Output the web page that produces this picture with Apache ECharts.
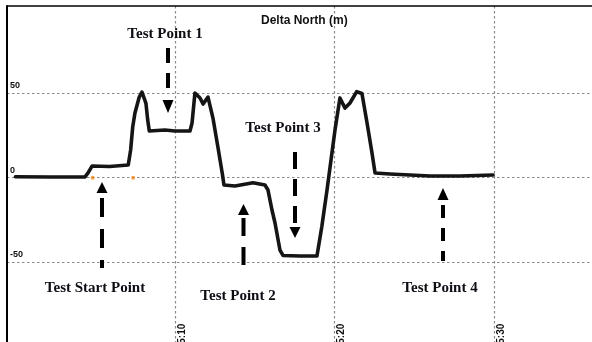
<!DOCTYPE html>
<html>
<head>
<meta charset="utf-8">
<script src="https://cdn.jsdelivr.net/npm/echarts@6/dist/echarts.min.js"></script>
<style>html,body{margin:0;padding:0;background:#fff}#c{width:592px;height:342px}</style>
</head>
<body>
<div id="c"></div>
<script>
// time in seconds (5:10 = 310 s)
var times = [300.0, 302.2, 304.36, 304.55, 304.8, 305.9, 307.07, 307.22, 307.35, 307.49, 307.76, 307.93, 308.18, 308.29, 308.39, 309.37, 310.0, 310.94, 311.07, 311.25, 311.57, 311.76, 312.07, 312.38, 312.7, 312.98, 313.07, 313.76, 314.89, 315.64, 315.83, 316.08, 316.27, 316.58, 316.77, 317.84, 318.9, 319.2, 319.53, 320.03, 320.34, 320.66, 320.97, 321.39, 321.72, 322.04, 322.35, 322.54, 323.48, 324.73, 325.99, 327.87, 329.94];
var north = [0.6, 0.4, 0.5, 2.8, 6.9, 6.6, 7.5, 16.4, 30, 38.3, 47.7, 50.7, 44, 34.1, 27.6, 28.2, 27.6, 27.6, 32.4, 50.1, 47.2, 43.6, 47.7, 35.3, 17.6, 1.6, -4.3, -4.9, -3.0, -4.3, -7.3, -19.1, -26.8, -42.8, -46, -46.3, -46.3, -29.2, -7.3, 28.2, 47.2, 41.2, 44.2, 50.9, 49.8, 32.4, 14.6, 2.8, 2.2, 1.6, 1.0, 1.0, 1.6];
var markerTimes = [304.84, 307.38];
var markerValues = [0, 0];
var xTickValues = [310, 320, 330];
var xTickLabels = ['5:10', '5:20', '5:30'];
var yTickValues = [-50, 0, 50];
var yTickLabels = ['-50', '0', '50'];
var titleText = 'Delta North (m)';
var notes = ['Test Start Point', 'Test Point 1', 'Test Point 2', 'Test Point 3', 'Test Point 4'];

var lineData = times.map(function (t, i) { return [t, north[i]]; });
var markerData = markerTimes.map(function (t, i) { return [t, markerValues[i]]; });

var chart = echarts.init(document.getElementById('c'), null, {renderer: 'canvas'});

var serif = 'bold 15px "Liberation Serif", "DejaVu Serif", serif';
function noteText(txt, cx, cy) {
  return {type: 'text', x: cx, y: cy, z: 50,
    style: {text: txt, font: serif, fill: '#0d0d14', align: 'center', verticalAlign: 'middle'}};
}
function arrow(x, y1, y2, dash, tipY, baseY) {
  return [
    {type: 'line', z: 50, shape: {x1: x, y1: y1, x2: x, y2: y2},
      style: {stroke: '#000', lineWidth: 4, lineDash: dash}},
    {type: 'polygon', z: 50, shape: {points: [[x - 5.5, baseY], [x + 5.5, baseY], [x, tipY]]},
      style: {fill: '#000'}}
  ];
}

var graphics = [
  {type: 'line', z: 60, shape: {x1: 7, y1: 6, x2: 592, y2: 6}, style: {stroke: '#000', lineWidth: 1.6}},
  noteText(notes[0], 95, 288),
  noteText(notes[1], 165, 34),
  noteText(notes[2], 238, 296),
  noteText(notes[3], 283, 128),
  noteText(notes[4], 440, 288)
].concat(
  arrow(102, 198, 268, [19, 12], 182, 193),
  arrow(168, 48, 90, [15, 10], 113, 100),
  arrow(243.5, 218, 276, [18, 11], 204, 215),
  arrow(295, 152, 224, [17, 10], 238, 227),
  arrow(443, 205, 261, [13, 10], 188, 200)
);

chart.setOption({
  animation: false,
  backgroundColor: '#fff',
  title: {
    text: titleText, left: 256, top: 10,
    textStyle: {fontFamily: '"Liberation Sans", Arial, sans-serif', fontWeight: 'bold', fontSize: 12, color: '#111'}
  },
  grid: {left: 7, width: 585, top: 6, height: 340.7, containLabel: false, outerBoundsMode: 'none'},
  xAxis: {
    type: 'value', min: 299.47, max: 336.14,
    axisLine: {show: false},
    axisTick: {show: false, customValues: xTickValues},
    axisLabel: {
      customValues: xTickValues, inside: true, rotate: 90, margin: 3,
      align: 'left', verticalAlign: 'top', lineHeight: 14,
      fontFamily: '"Liberation Sans", Arial, sans-serif', fontWeight: 'bold', fontSize: 10, color: '#111',
      formatter: function (v) { var i = xTickValues.indexOf(v); return i >= 0 ? xTickLabels[i] : ''; }
    },
    splitLine: {show: true, lineStyle: {color: '#8a8a8a', width: 1.2, type: [2.5, 2.5]}}
  },
  yAxis: {
    type: 'value', min: -100, max: 101.6,
    axisLine: {show: true, lineStyle: {color: '#000', width: 2}},
    axisTick: {show: false, customValues: yTickValues},
    axisLabel: {
      customValues: yTickValues, inside: true, margin: 3,
      align: 'left', verticalAlign: 'bottom', padding: [0, 0, 3, 0],
      fontFamily: '"Liberation Sans", Arial, sans-serif', fontWeight: 'bold', fontSize: 9, color: '#111',
      formatter: function (v) { var i = yTickValues.indexOf(v); return i >= 0 ? yTickLabels[i] : ''; }
    },
    splitLine: {show: true, lineStyle: {color: '#8a8a8a', width: 1.2, type: [2.5, 2.5]}}
  },
  series: [
    {
      type: 'line', data: lineData, showSymbol: false, z: 5,
      lineStyle: {color: '#151515', width: 3.6, join: 'round', cap: 'round'}
    },
    {
      type: 'scatter', data: markerData, symbolSize: 4, z: 4,
      itemStyle: {color: '#f08a1c'}
    }
  ],
  graphic: graphics
});
</script>
</body>
</html>
